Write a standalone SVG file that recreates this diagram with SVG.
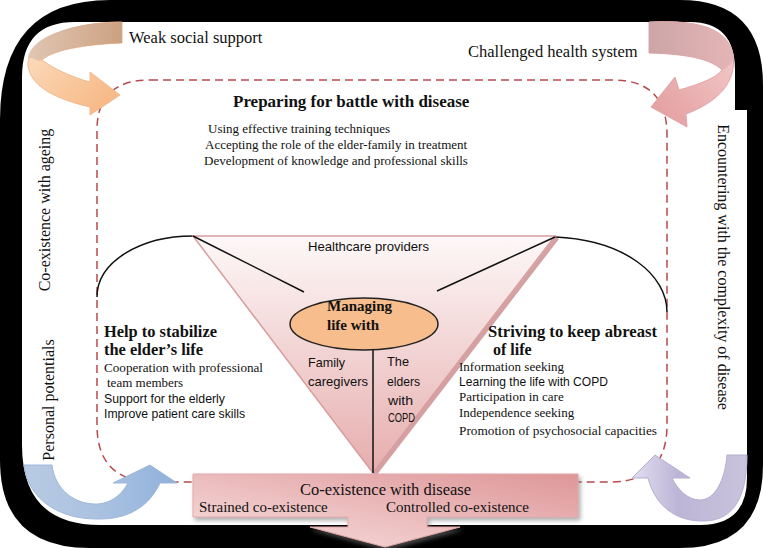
<svg xmlns="http://www.w3.org/2000/svg" width="763" height="548" viewBox="0 0 763 548">
<defs>
<style>
.serif{font-family:"Liberation Serif","Times New Roman",serif;fill:#111}
.sans{font-family:"Liberation Sans",Arial,sans-serif;fill:#111}
.b{font-weight:bold}
.t13{font-size:13px}
.t16{font-size:16.5px}
.edge{fill:none;stroke:#111;stroke-width:1.5}
.dash{fill:none;stroke:#b8494d;stroke-width:1.5;stroke-dasharray:8 5}
</style>
<linearGradient id="gOrange" x1="0" y1="0" x2="1" y2="1"><stop offset="0" stop-color="#fde2c8"/><stop offset="1" stop-color="#f6b27c"/></linearGradient>
<linearGradient id="gOrangeBack" x1="0" y1="0" x2="1" y2="0"><stop offset="0" stop-color="#dcc3b2"/><stop offset="1" stop-color="#c49a7c"/></linearGradient>
<linearGradient id="gPink" x1="1" y1="0" x2="0" y2="1"><stop offset="0" stop-color="#f5cfcf"/><stop offset="1" stop-color="#e29a9c"/></linearGradient>
<linearGradient id="gPinkBack" x1="0" y1="0" x2="1" y2="0"><stop offset="0" stop-color="#c9a4a6"/><stop offset="1" stop-color="#e3b3b4"/></linearGradient>
<linearGradient id="gBlue" x1="0" y1="0" x2="1" y2="0"><stop offset="0" stop-color="#b9cbe3"/><stop offset="0.6" stop-color="#a6bfe0"/><stop offset="1" stop-color="#8fb0da"/></linearGradient>
<linearGradient id="gPurple" x1="1" y1="0" x2="0" y2="0"><stop offset="0" stop-color="#c9c3dd"/><stop offset="0.6" stop-color="#bdb5d6"/><stop offset="1" stop-color="#e2def0"/></linearGradient>
<linearGradient id="gTri" x1="0" y1="0" x2="0" y2="1"><stop offset="0" stop-color="#fdf8f8"/><stop offset="1" stop-color="#e6adad"/></linearGradient>
<linearGradient id="gBox" x1="0" y1="1" x2="1" y2="0"><stop offset="0" stop-color="#f8e0e0"/><stop offset="1" stop-color="#de9698"/></linearGradient>
<filter id="shadow" x="-10%" y="-10%" width="120%" height="130%"><feDropShadow dx="2" dy="3" stdDeviation="2" flood-color="#777" flood-opacity="0.6"/></filter>
</defs>

<g id="frame">
<path d="M110,0 L680,0 Q763,0 763,85 L763,465 Q763,548 680,548 L90,548 Q0,548 0,460 L0,120 Q0,0 110,0 Z" fill="#000"/>
<path d="M75,22 L690,22 Q735,22 735,70 L735,110 L747,110 L747,478 Q747,525 700,525 L100,525 Q22,525 22,445 L22,77 Q22,22 75,22 Z" fill="#fff"/>
</g>

<g id="connectors">
<path class="dash" d="M150,80 L613,80 Q667,80 667,135 L667,425 Q667,482 610,482 L155,482 Q97,482 97,425 L97,130 Q97,80 150,80 Z"/>
<path class="edge" d="M193,236 C140,236 97,262 97,297"/>
<path class="edge" d="M555,237 C625,240 667,275 667,312"/>
</g>

<g id="triangle">
<polygon points="555,237 559,239 376,476 373,473" fill="#c98a8c" opacity="0.8"/>
<polygon points="193,236 555,236 373,473" fill="url(#gTri)" stroke="#d79c9e" stroke-width="1.5"/>
<text class="sans t13" x="308" y="251" textLength="121" lengthAdjust="spacingAndGlyphs">Healthcare providers</text>
<text class="sans t13" x="308" y="367" textLength="37" lengthAdjust="spacingAndGlyphs">Family</text>
<text class="sans t13" x="308" y="386" textLength="60" lengthAdjust="spacingAndGlyphs">caregivers</text>
<text class="sans t13" x="387" y="366" textLength="22" lengthAdjust="spacingAndGlyphs">The</text>
<text class="sans t13" x="387" y="386" textLength="33" lengthAdjust="spacingAndGlyphs">elders</text>
<text class="sans t13" x="388" y="405" textLength="25" lengthAdjust="spacingAndGlyphs">with</text>
<text class="sans t13" x="388" y="422" textLength="27" lengthAdjust="spacingAndGlyphs">COPD</text>
</g>

<g id="connectors-inner">
<path class="edge" d="M193,236 L304,292"/>
<path class="edge" d="M555,237 L437,291"/>
<path class="edge" d="M373,350 L373,473"/>
</g>

<g id="core">
<ellipse cx="364" cy="324" rx="74" ry="26" fill="#f7bd8c" stroke="#222" stroke-width="1.5"/>
<text class="serif b" x="327" y="311" font-size="15">Managing</text>
<text class="serif b" x="327" y="330" font-size="15">life with</text>
</g>

<g id="outcome" filter="url(#shadow)">
<path d="M193,474 L578,474 L578,517 L427,517 L427,527 L460,527 L385,547 L310,527 L348,527 L348,517 L193,517 Z" fill="url(#gBox)" stroke="#e2a9aa" stroke-width="1"/>
</g>
<g id="outcome-text">
<text class="serif t16" x="300" y="495" textLength="171" lengthAdjust="spacingAndGlyphs">Co-existence with disease</text>
<text class="serif" font-size="15" x="199" y="512">Strained co-existence</text>
<text class="serif" font-size="15" x="386" y="512">Controlled co-existence</text>
</g>

<g id="arrow-weak-social">
<path d="M122,22 L122,43 C95,44 55,48 42,60 C55,70 75,78 90,82 L90,72 L120,95 L90,115 L90,107 C60,100 30,88 28,65 C27,40 70,22 122,22 Z" fill="url(#gOrange)" stroke="#f2b98f" stroke-width="1"/>
<path d="M122,22 L122,43 C95,44 55,48 40,61 C33,59 29,57 28,58 C30,38 70,22 122,22 Z" fill="url(#gOrangeBack)" opacity="0.85"/>
<text class="serif t16" x="129" y="43">Weak social support</text>
</g>

<g id="arrow-health-system">
<path d="M649,22 C690,20 728,25 733,55 C737,82 718,102 686,114 L687,127 L651,107 L675,77 L679,90 C700,84 716,78 722,70 C712,60 690,54 649,53 Z" fill="url(#gPink)" stroke="#e3a5a7" stroke-width="1"/>
<path d="M649,22 C690,20 728,25 733,55 C734,62 730,66 722,70 C712,60 690,54 649,53 Z" fill="url(#gPinkBack)" opacity="0.9"/>
<text class="serif t16" x="468" y="57">Challenged health system</text>
</g>

<g id="arrow-personal">
<path d="M24,465 L52,465 C55,490 75,505 98,504 C112,503 122,494 128,483 L113,483 L150,465 L177,483 L160,483 C150,505 130,519 100,519 C60,520 28,500 24,465 Z" fill="url(#gBlue)" stroke="#9fb8da" stroke-width="1"/>
</g>

<g id="arrow-complexity">
<path d="M747,455 L727,455 C725,480 715,500 700,500 C688,500 678,490 672,478 L690,478 L655,455 L632,478 L648,478 C655,505 675,522 705,521 C735,520 747,495 747,455 Z" fill="url(#gPurple)" stroke="#b7aed0" stroke-width="1"/>
</g>

<g id="side-labels">
<text class="serif" font-size="16" text-anchor="middle" transform="translate(50,210) rotate(-90)">Co-existence with ageing</text>
<text class="serif" font-size="16" text-anchor="middle" transform="translate(54,400) rotate(-90)">Personal potentials</text>
<text class="serif" font-size="16" text-anchor="middle" transform="translate(718,267) rotate(90)">Encountering with the complexity of disease</text>
</g>

<g id="preparing">
<text class="serif b" font-size="17" x="233" y="107">Preparing for battle with disease</text>
<text class="serif t13" x="208" y="133">Using effective training techniques</text>
<text class="serif t13" x="205" y="149">Accepting the role of the elder-family in treatment</text>
<text class="serif t13" x="204" y="165">Development of knowledge and professional skills</text>
</g>

<g id="help-stabilize">
<text class="serif b" font-size="16" x="104" y="337" textLength="113" lengthAdjust="spacingAndGlyphs">Help to stabilize</text>
<text class="serif b" font-size="16" x="104" y="355" textLength="99" lengthAdjust="spacingAndGlyphs">the elder’s life</text>
<text class="serif t13" x="104" y="372" textLength="159" lengthAdjust="spacingAndGlyphs">Cooperation with professional</text>
<text class="serif t13" x="107" y="387">team members</text>
<text class="sans t13" x="104" y="403" textLength="121" lengthAdjust="spacingAndGlyphs">Support for the elderly</text>
<text class="sans t13" x="104" y="418" textLength="141" lengthAdjust="spacingAndGlyphs">Improve patient care skills</text>
</g>

<g id="striving">
<text class="serif b" font-size="16" x="488" y="337" textLength="169" lengthAdjust="spacingAndGlyphs">Striving to keep abreast</text>
<text class="serif b" font-size="16" x="493" y="355">of life</text>
<text class="serif t13" x="459" y="371">Information seeking</text>
<text class="sans t13" x="459" y="386" textLength="149" lengthAdjust="spacingAndGlyphs">Learning the life with COPD</text>
<text class="serif t13" x="459" y="401">Participation in care</text>
<text class="serif t13" x="459" y="417">Independence seeking</text>
<text class="serif t13" x="459" y="435" textLength="198" lengthAdjust="spacingAndGlyphs">Promotion of psychosocial capacities</text>
</g>
</svg>
